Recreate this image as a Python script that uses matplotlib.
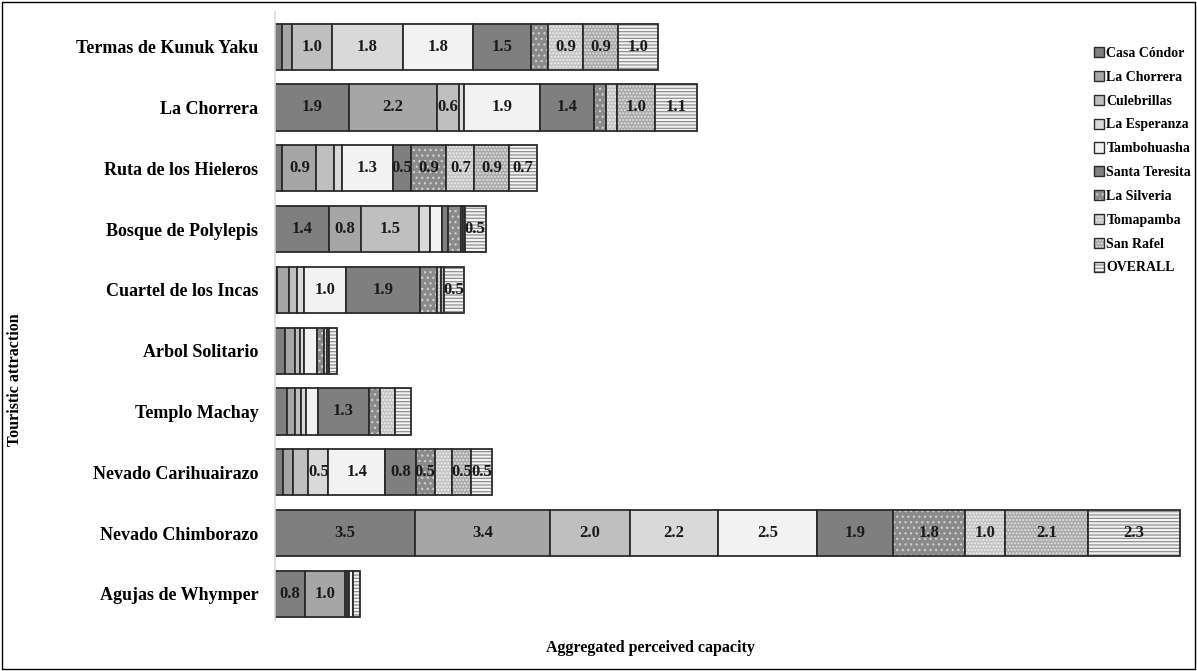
import numpy as np
import matplotlib
matplotlib.use("Agg")
import matplotlib.pyplot as plt
from matplotlib.patches import Patch, Rectangle

# attractions, top to bottom
attractions = ["Termas de Kunuk Yaku", "La Chorrera", "Ruta de los Hieleros",
               "Bosque de Polylepis", "Cuartel de los Incas", "Arbol Solitario",
               "Templo Machay", "Nevado Carihuairazo", "Nevado Chimborazo",
               "Agujas de Whymper"]

series = ["Casa Cóndor", "La Chorrera", "Culebrillas", "La Esperanza", "Tambohuasha",
          "Santa Teresita", "La Silveria", "Tomapamba", "San Rafel", "OVERALL"]

# one list per series, values per attraction (same order as attractions)
casa_condor    = [0.18, 1.86, 0.18, 1.36, 0.05, 0.25, 0.29, 0.21, 3.5, 0.76]
la_chorrera    = [0.25, 2.20, 0.86, 0.80, 0.30, 0.25, 0.20, 0.25, 3.4, 0.99]
culebrillas    = [1.00, 0.56, 0.44, 1.46, 0.20, 0.12, 0.15, 0.38, 2.0, 0.05]
la_esperanza   = [1.78, 0.13, 0.20, 0.27, 0.18, 0.10, 0.15, 0.50, 2.2, 0.05]
tambohuasha    = [1.76, 1.90, 1.28, 0.29, 1.04, 0.33, 0.30, 1.43, 2.5, 0.10]
santa_teresita = [1.46, 1.36, 0.46, 0.17, 1.86, 0.00, 1.26, 0.76, 1.9, 0.00]
la_silveria    = [0.42, 0.28, 0.88, 0.32, 0.44, 0.18, 0.29, 0.48, 1.8, 0.00]
tomapamba      = [0.88, 0.28, 0.70, 0.04, 0.10, 0.07, 0.38, 0.44, 1.0, 0.00]
san_rafel      = [0.88, 0.96, 0.88, 0.05, 0.08, 0.05, 0.00, 0.47, 2.1, 0.00]
overall        = [1.00, 1.06, 0.68, 0.52, 0.48, 0.21, 0.38, 0.53, 2.3, 0.19]

values = [casa_condor, la_chorrera, culebrillas, la_esperanza, tambohuasha,
          santa_teresita, la_silveria, tomapamba, san_rafel, overall]

# (face, hatch, hatch colour) per series
styles = [
    ("#7f7f7f", None, "#7f7f7f"),
    ("#a6a6a6", None, "#a6a6a6"),
    ("#bfbfbf", None, "#bfbfbf"),
    ("#d9d9d9", None, "#d9d9d9"),
    ("#f2f2f2", None, "#f2f2f2"),
    ("#7f7f7f", None, "#7f7f7f"),
    ("#8a8a8a", "...", "#cfcfcf"),
    ("#c4c4c4", ".....", "#f0f0f0"),
    ("#ababab", ".....", "#e3e3e3"),
    ("#f4f4f4", "-----", "#8f8f8f"),
]

serif = ["Liberation Serif", "DejaVu Serif"]
plt.rcParams["hatch.linewidth"] = 0.9

fig = plt.figure(figsize=(11.97, 6.71), dpi=100)
ax = fig.add_axes([275 / 1197, 1 - 620 / 671, (1185 - 275) / 1197, (620 - 12) / 671])

y = np.arange(len(attractions))
left = np.zeros(len(attractions))
bar_h = 0.76
handles = []
for name, vals, (face, hatch, hcol) in zip(series, values, styles):
    vals = np.array(vals)
    ax.barh(y, vals, left=left, height=bar_h, color=face, hatch=hatch,
            edgecolor=hcol, linewidth=0)
    outline = ax.barh(y, vals, left=left, height=bar_h, fill=False,
                      edgecolor="#2b2b2b", linewidth=1.3)
    labels = [f"{v:.1f}" if v >= 0.45 else "" for v in vals]
    ax.bar_label(outline, labels=labels, label_type="center", fontsize=12,
                 fontweight="bold", family=serif, color="#1a1a1a")
    left = left + vals
    handles.append((Patch(facecolor=face, hatch=hatch, edgecolor=hcol, linewidth=0),
                    Patch(fill=False, edgecolor="#2b2b2b", linewidth=1.0)))

ax.set_xlim(0, (1185 - 275) / 39.87)
ax.set_ylim(9.43, -0.57)
ax.set_yticks(y, labels=attractions)
for t in ax.get_yticklabels():
    t.set_fontfamily(serif)
    t.set_fontweight("bold")
    t.set_fontsize(13)
ax.tick_params(axis="y", length=0, pad=12)
ax.set_xticks([])
for s in ["top", "right", "bottom"]:
    ax.spines[s].set_visible(False)
ax.spines["left"].set_color("#d9d9d9")
ax.spines["left"].set_linewidth(1.2)

leg = fig.legend(handles, series, loc="upper left",
                 bbox_to_anchor=(1087 / 1197, 1 - 40 / 671),
                 bbox_transform=fig.transFigure, frameon=False,
                 handlelength=0.75, handleheight=0.75, handletextpad=0.15,
                 labelspacing=0.78, borderpad=0,
                 prop={"family": serif, "weight": "bold", "size": 10})

fig.text(15 / 1197, 1 - 380 / 671, "Touristic attraction", rotation=90,
         ha="center", va="center", family=serif, fontweight="bold", fontsize=11.5)
fig.text(650 / 1197, 1 - 648 / 671, "Aggregated perceived capacity",
         ha="center", va="center", family=serif, fontweight="bold", fontsize=11.5)

# border round the whole figure
fig.patches.append(Rectangle((0.002, 0.003), 0.996, 0.994, transform=fig.transFigure,
                             fill=False, edgecolor="black", linewidth=1.0))

fig.savefig("out.png", dpi=100)
